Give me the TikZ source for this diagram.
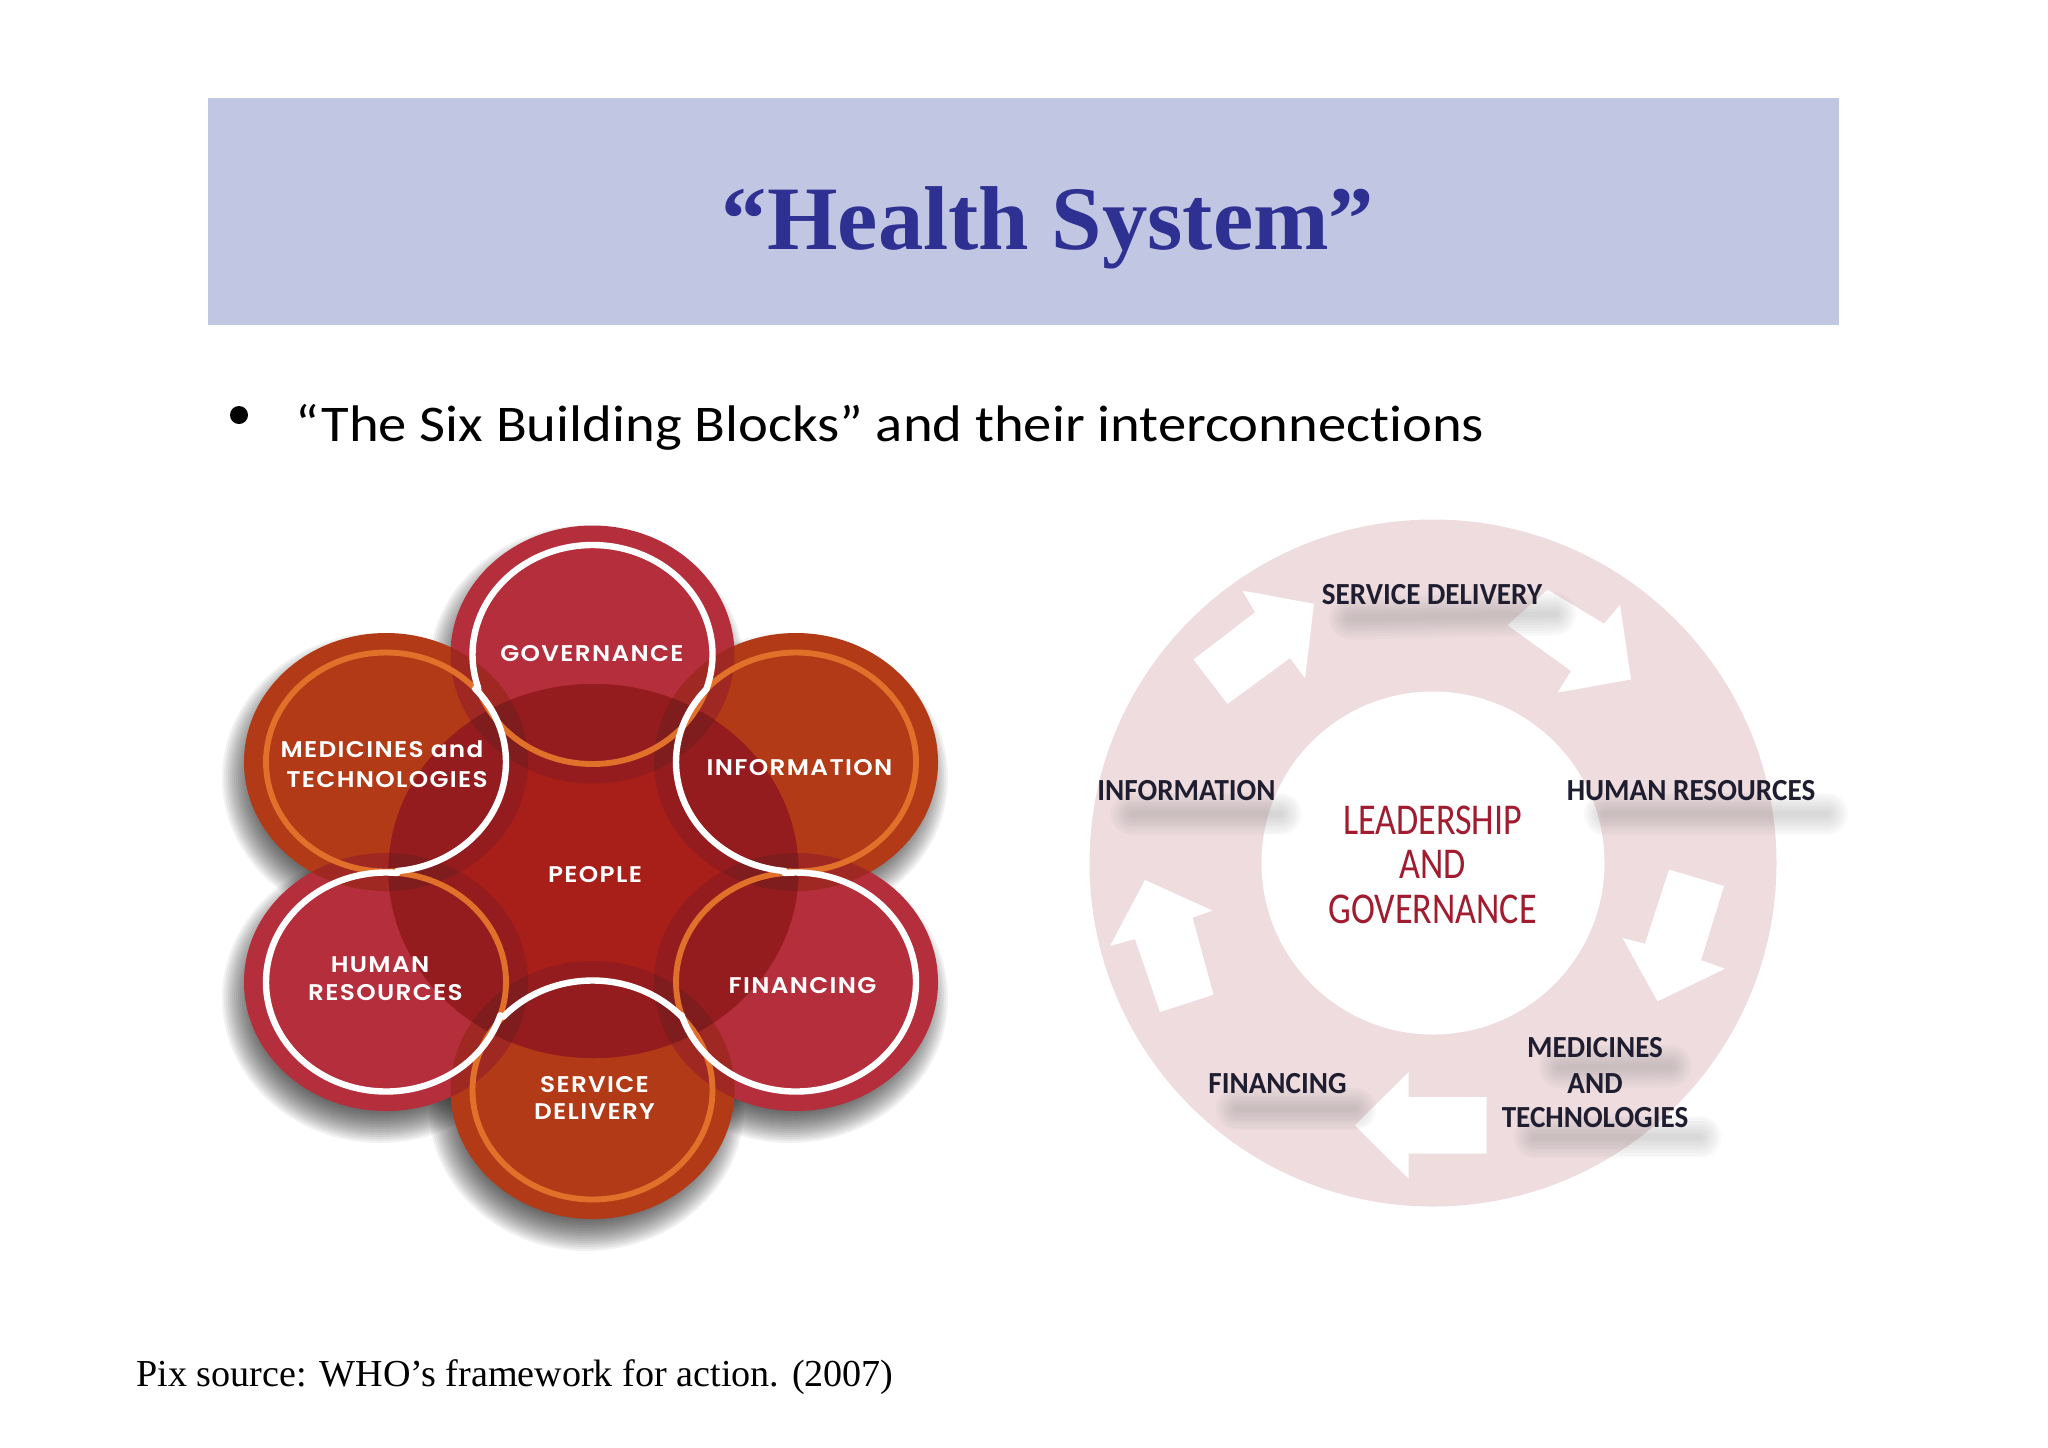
\documentclass[tikz,border=0pt]{standalone}
\usepackage{fontspec}
\setmainfont{Liberation Serif}
\newfontfamily\bulletfont[FakeStretch=1.1,Ligatures=NoCommon]{Carlito}
\newfontfamily\petalfont[LetterSpace=6,FakeStretch=1.09]{Poppins SemiBold}
\newfontfamily\ringfont[FakeStretch=0.95]{Carlito}
\newfontfamily\leaderfont[FakeStretch=0.82]{Carlito}
\definecolor{bannerblue}{RGB}{193,198,227}
\definecolor{titleblue}{RGB}{46,49,146}
\definecolor{petalred}{RGB}{180,46,60}
\definecolor{petalorange}{RGB}{178,58,22}
\definecolor{peoplered}{RGB}{168,30,24}
\definecolor{overlapred}{RGB}{148,28,30}
\definecolor{lensouter}{RGB}{160,40,34}
\definecolor{lensinner}{RGB}{126,28,30}
\definecolor{ringorange}{RGB}{224,112,42}
\definecolor{annulus}{RGB}{238,220,223}
\definecolor{navytext}{RGB}{30,30,48}
\definecolor{leaderred}{RGB}{160,28,46}
\tikzset{every picture/.style={line width=0.75pt},
  petaltext/.style={anchor=center,inner sep=0.75pt,white,font=\petalfont\fontsize{17}{20}\selectfont},
  ringtext/.style={anchor=center,inner sep=0.75pt,navytext,font=\ringfont\bfseries\fontsize{23}{27}\selectfont},
  leadertext/.style={anchor=center,inner sep=0.75pt,leaderred,font=\leaderfont\fontsize{33}{38}\selectfont},
  whitering/.style={draw=white,line width=4.8pt,line cap=round},
  orangering/.style={draw=ringorange,line width=4.4pt,line cap=round},
  blockarrow/.style={fill=white,draw=none},
  petalshape/.style={x radius=142,y radius=129},
  peopleshape/.style={x radius=205,y radius=187}}
\newcommand{\ringarc}[5]{\draw [#5] ({#1+120*cos(#3)},{#2-109.5*sin(#3)}) arc [start angle=-(#3), end angle=-(#4), x radius=120, y radius=109.5];}
\newcommand{\blurbar}[4]{\foreach \w in {4,8,...,32}{\draw [line width=\w pt,line cap=round,gray,opacity=0.045] (#1,#2) -- (#3,#4);}}
\begin{document}
\begin{tikzpicture}[x=0.75pt,y=0.75pt,yscale=-1,xscale=1]
\useasboundingbox (0,0) rectangle (2048,1447);

%Banner
\fill [bannerblue] (208,98) rectangle (1839,325);
% Text Node
\draw (1048,249) node [anchor=base,inner sep=0.75pt,titleblue,font=\bfseries\fontsize{68}{70}\selectfont] (title) {“Health System”};
% Bullet
\draw (239,415) node [circle,fill=black,inner sep=0pt,minimum size=13.5pt] (dot) {};
% Text Node
\draw (294,441) node [anchor=base west,inner sep=0.75pt,font=\bulletfont\fontsize{38.6}{42}\selectfont] (bullet) {“The Six Building Blocks” and their interconnections};
% Text Node
\draw (135,1386) node [anchor=base west,inner sep=0.75pt,font=\fontsize{28.6}{32}\selectfont] (source) {Pix source: WHO’s framework for action. (2007)};

%Petal shadows
\foreach \px/\py in {592.5/654.5,796/762,796/982,592.5/1090,386/982,386/762}{
  \foreach \g in {-20,-18,...,16}{
    \fill [black,opacity=0.05] (\px-6,\py+16) ellipse [x radius=142+\g,y radius=129+\g];
  }
}
%Petals
\foreach \px/\py/\pcol in {592.5/654.5/petalred,796/762/petalorange,796/982/petalred,592.5/1090/petalorange,386/982/petalred,386/762/petalorange}{
  \fill [\pcol] (\px,\py) ellipse [petalshape];
}
%Lenses between neighbours
\foreach \ax/\ay/\bx/\by in {592.5/654.5/796/762,796/762/796/982,796/982/592.5/1090,592.5/1090/386/982,386/982/386/762,386/762/592.5/654.5}{
  \begin{scope}
  \clip (\ax,\ay) ellipse [petalshape];
  \fill [lensouter] (\bx,\by) ellipse [petalshape];
  \end{scope}
}
%People circle and its overlaps
\fill [peoplered] (593.5,871) ellipse [peopleshape];
\begin{scope}
\clip (593.5,871) ellipse [peopleshape];
\foreach \px/\py in {592.5/654.5,796/762,796/982,592.5/1090,386/982,386/762}{
  \fill [overlapred] (\px,\py) ellipse [petalshape];
}
\foreach \ax/\ay/\bx/\by in {592.5/654.5/796/762,796/762/796/982,796/982/592.5/1090,592.5/1090/386/982,386/982/386/762,386/762/592.5/654.5}{
  \begin{scope}
  \clip (\ax,\ay) ellipse [petalshape];
  \fill [lensinner] (\bx,\by) ellipse [petalshape];
  \end{scope}
}
\end{scope}
%Rings
\ringarc{592.5}{654.5}{197.7}{342.3}{orangering}
\ringarc{796}{762}{264.5}{498}{orangering}
\ringarc{796}{982}{95.5}{197.7}{orangering}
\ringarc{592.5}{1090}{138}{402}{orangering}
\ringarc{386}{982}{-17.7}{84.5}{orangering}
\ringarc{386}{762}{42}{275.5}{orangering}
\ringarc{592.5}{654.5}{-17.7}{197.7}{whitering}
\ringarc{796}{762}{138}{264.5}{whitering}
\ringarc{796}{982}{-162.3}{95.5}{whitering}
\ringarc{592.5}{1090}{42}{138}{whitering}
\ringarc{386}{982}{84.5}{342.3}{whitering}
\ringarc{386}{762}{-84.5}{42}{whitering}

% Text Node
\draw (592,654) node [petaltext] (governance) {GOVERNANCE};
% Text Node
\draw (595,874.5) node [petaltext] (people) {PEOPLE};
% Text Node
\draw (799.5,768) node [petaltext] (information) {INFORMATION};
% Text Node
\draw (802.5,986) node [petaltext] (financing) {FINANCING};
% Text Node
\draw (594.5,1085) node [petaltext] (service) {SERVICE};
% Text Node
\draw (594.5,1112) node [petaltext] (delivery) {DELIVERY};
% Text Node
\draw (380,965) node [petaltext] (human) {HUMAN};
% Text Node
\draw (385.5,993) node [petaltext] (resources) {RESOURCES};
% Text Node
\draw (382,749) node [petaltext] (medicines) {MEDICINES and};
% Text Node
\draw (387,780) node [petaltext] (technologies) {TECHNOLOGIES};

%Ring
\fill [annulus] (1433,863) circle [radius=343.5];
\fill [white] (1433,863) circle [radius=171.5];
%Block arrows
\fill [blockarrow] (1193.5,659.5) -- (1255,612.3) -- (1242.5,590.6) -- (1314,603.8) -- (1305,678.4) -- (1290,658) -- (1227.5,703.9) -- cycle;
\fill [blockarrow] (1547.5,589.7) -- (1604,623.7) -- (1620,604.8) -- (1631,679.4) -- (1557.5,692.6) -- (1571,670.9) -- (1507.5,625.1) -- cycle;
\fill [blockarrow] (1669,869.6) -- (1724,886) -- (1701,960.2) -- (1725,968.7) -- (1657.5,1001.3) -- (1622.5,938) -- (1645,943.7) -- cycle;
\fill [blockarrow] (1486.5,1097) -- (1486.5,1153.7) -- (1408.5,1153.7) -- (1408.5,1178.7) -- (1355,1125.4) -- (1408.5,1072) -- (1408.5,1097) -- cycle;
\fill [blockarrow] (1160,1012) -- (1213.5,994.7) -- (1192.5,917.7) -- (1212.5,910.6) -- (1145,880) -- (1110,946) -- (1135,939) -- cycle;
%Text shadows
\blurbar{1350}{618}{1555}{614}
\blurbar{1605}{814}{1827}{814}
\blurbar{1132}{814}{1280}{814}
\blurbar{1237}{1109}{1355}{1109}
\blurbar{1560}{1067}{1670}{1066}
\blurbar{1535}{1137}{1700}{1137}

% Text Node
\draw (1432,594.4) node [ringtext] (ringservice) {SERVICE DELIVERY};
% Text Node
\draw (1691,791) node [ringtext] (ringhuman) {HUMAN RESOURCES};
% Text Node
\draw (1186.5,791) node [ringtext] (ringinfo) {INFORMATION};
% Text Node
\draw (1277.5,1084) node [ringtext] (ringfinancing) {FINANCING};
% Text Node
\draw (1595,1047.5) node [ringtext] (ringmedicines) {MEDICINES};
% Text Node
\draw (1595,1084) node [ringtext] (ringand) {AND};
% Text Node
\draw (1595,1118) node [ringtext] (ringtech) {TECHNOLOGIES};
% Text Node
\draw (1432.5,820) node [leadertext] (leadership) {LEADERSHIP};
% Text Node
\draw (1432.5,864) node [leadertext] (leaderand) {AND};
% Text Node
\draw (1432.5,909) node [leadertext] (leadergov) {GOVERNANCE};
\end{tikzpicture}
\end{document}
